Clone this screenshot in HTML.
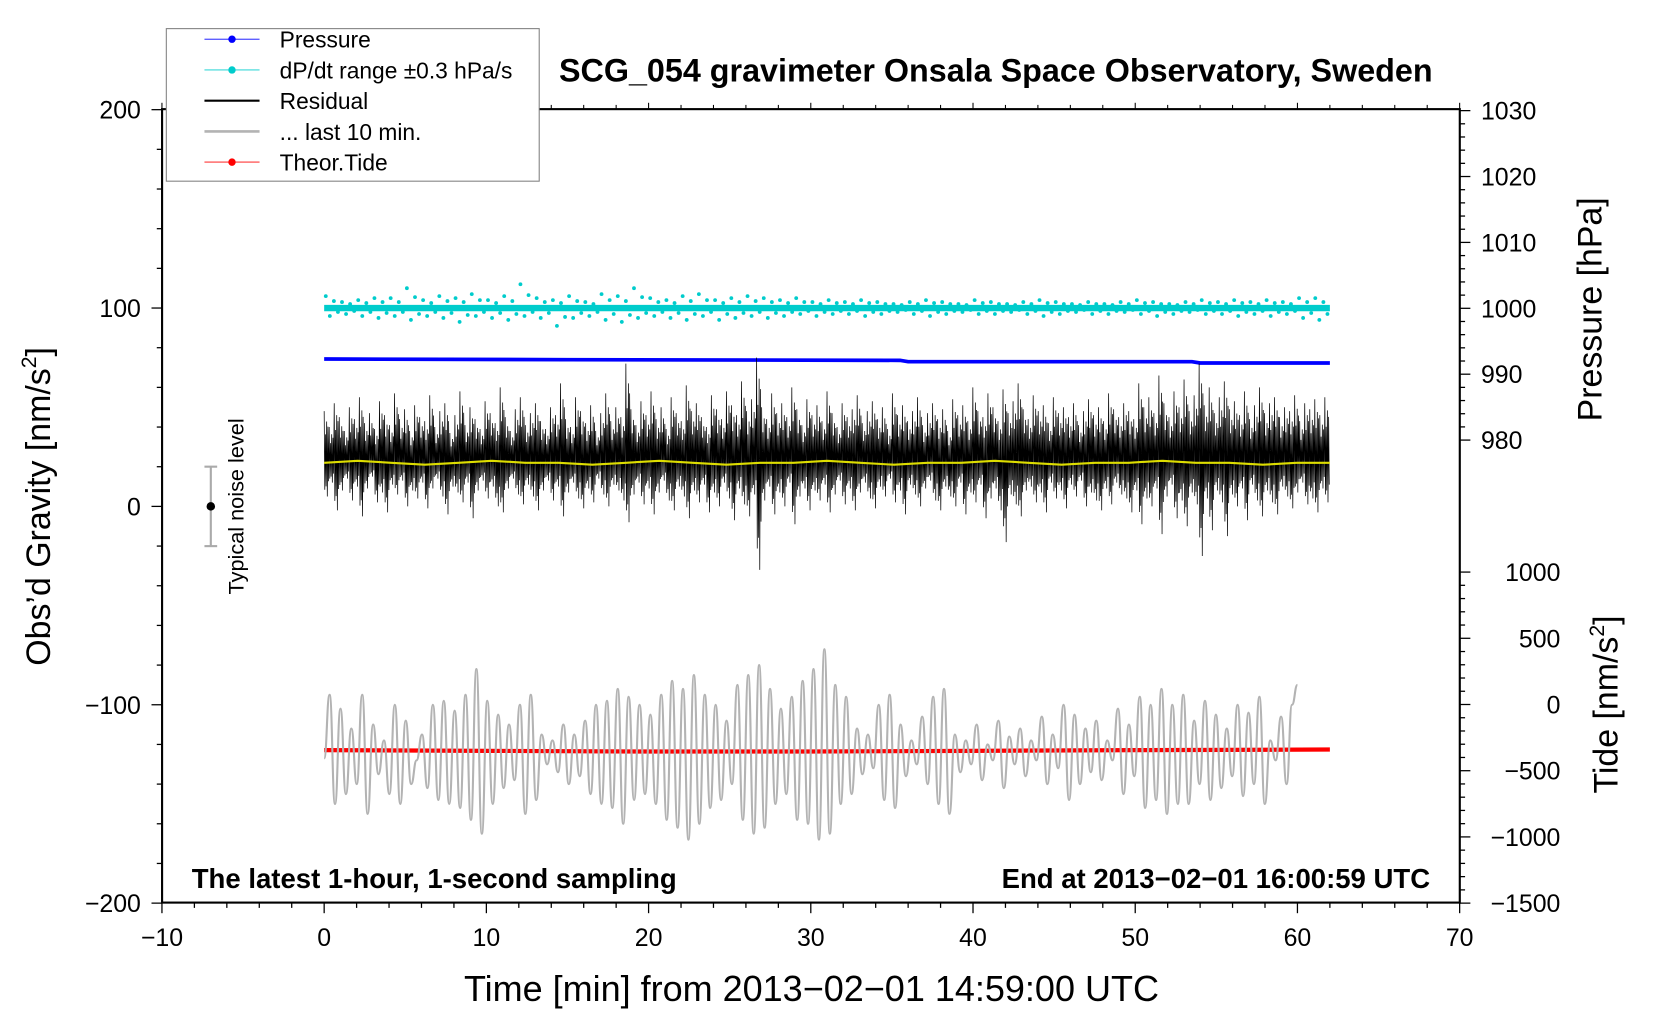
<!DOCTYPE html>
<html><head><meta charset="utf-8"><style>
html,body{margin:0;padding:0;background:#fff}
svg{display:block;font-family:"Liberation Sans",Arial,sans-serif}
</style></head><body>
<svg id="chart" width="1660" height="1020" viewBox="0 0 1567 962.8" xmlns="http://www.w3.org/2000/svg">
<rect width="1567" height="963" fill="#fff"/>
<g id="series"></g>
<g id="axes"></g>
<text x="940" y="77" text-anchor="middle" font-size="30.5" font-weight="bold">SCG_054 gravimeter Onsala Space Observatory, Sweden</text>
<g>
<rect x="157" y="27" width="352" height="144" fill="#fff" stroke="#808080" stroke-width="1"/>
<g><line x1="193" y1="37" x2="245" y2="37" stroke="#0000ff" stroke-width="0.8"/><circle cx="219" cy="37" r="3.5" fill="#0000ff"/><text x="264" y="45" font-size="21.5">Pressure</text></g>
<g><line x1="193" y1="66" x2="245" y2="66" stroke="#00cccc" stroke-width="0.8"/><circle cx="219" cy="66" r="3.5" fill="#00cccc"/><text x="264" y="74" font-size="21.5">dP/dt range ±0.3 hPa/s</text></g>
<g><line x1="193" y1="95" x2="245" y2="95" stroke="#000" stroke-width="2"/><text x="264" y="103" font-size="21.5">Residual</text></g>
<g><line x1="193" y1="124" x2="245" y2="124" stroke="#b3b3b3" stroke-width="2.5"/><text x="264" y="132" font-size="21.5">... last 10 min.</text></g>
<g><line x1="193" y1="153" x2="245" y2="153" stroke="#ff0000" stroke-width="0.8"/><circle cx="219" cy="153" r="3.5" fill="#ff0000"/><text x="264" y="161" font-size="21.5">Theor.Tide</text></g>
</g>
<g>
<line x1="199" y1="440.5" x2="199" y2="515.5" stroke="#aaa" stroke-width="2"/>
<line x1="193" y1="440.5" x2="205" y2="440.5" stroke="#aaa" stroke-width="2"/>
<line x1="193" y1="515.5" x2="205" y2="515.5" stroke="#aaa" stroke-width="2"/>
<circle cx="199" cy="478" r="4" fill="#000"/>
<text x="0" y="0" transform="translate(230,478) rotate(-90)" text-anchor="middle" font-size="20.5">Typical noise level</text>
</g>
<text x="181" y="838" font-size="26" font-weight="bold">The latest 1-hour, 1-second sampling</text>
<text x="1350" y="838" text-anchor="end" font-size="26" font-weight="bold">End at 2013−02−01 16:00:59 UTC</text>
<text transform="translate(47,478) rotate(-90)" text-anchor="middle" font-size="32">Obs’d Gravity [nm/s<tspan font-size="20" dy="-13">2</tspan><tspan dy="13">]</tspan></text>
<text transform="translate(1512,292) rotate(-90)" text-anchor="middle" font-size="32">Pressure [hPa]</text>
<text transform="translate(1527,665) rotate(-90)" text-anchor="middle" font-size="32">Tide [nm/s<tspan font-size="20" dy="-13">2</tspan><tspan dy="13">]</tspan></text>
<text x="766" y="945" text-anchor="middle" font-size="34">Time [min] from 2013−02−01 14:59:00 UTC</text>
</svg>
<script>
const residualHi=[48,40,52,45,38,50,44,55,42,47,39,53,46,41,57,44,49,38,51,45,
43,56,40,48,52,37,46,58,41,50,44,39,53,47,42,60,45,38,49,55,
41,47,52,43,39,50,46,62,44,40,55,48,42,51,38,47,57,43,50,45,
72,49,41,53,46,58,44,50,39,55,47,43,61,48,52,45,40,56,49,44,
58,51,46,63,48,54,75,50,44,57,47,52,45,60,49,41,54,46,51,43,
58,47,40,52,45,49,56,42,48,53,44,50,39,57,46,51,43,48,55,41,
47,52,44,49,38,54,46,51,43,60,48,45,57,50,43,59,47,53,62,49,
44,56,48,51,42,55,47,50,45,52,41,48,54,46,50,43,57,49,45,52,
48,44,62,50,55,47,66,52,45,58,50,64,48,56,72,51,60,47,55,63,
49,53,46,58,44,51,60,47,52,55,45,50,48,56,43,52,49,54,46,55];
const residualLo=[5,12,-2,8,14,3,10,-5,9,15,2,7,-3,11,6,13,0,8,4,12,
-1,9,14,5,-4,10,7,2,12,-6,8,13,4,10,0,-3,9,14,6,1,
11,5,-2,8,13,3,10,-5,7,12,4,-1,9,2,14,6,0,11,8,3,
-8,6,12,1,9,-4,7,13,3,-2,10,5,-6,8,2,11,-3,7,0,12,
4,-7,9,1,-5,6,-32,3,10,-4,7,0,12,-9,5,9,-2,8,3,11,
-3,6,13,1,9,-2,7,12,4,-1,10,5,14,2,8,-4,11,6,0,9,
13,3,-2,10,5,0,12,-4,7,2,11,-6,4,9,-2,-18,6,1,-5,8,
10,2,7,-3,12,4,8,-1,11,5,13,0,7,3,-2,9,1,12,6,4,
-3,8,-9,4,0,9,-14,5,11,-6,3,-10,7,1,-25,4,-12,8,2,-15,
6,0,9,-7,11,3,-5,8,2,-4,10,5,-1,7,12,1,4,-3,9,2];
const residualCenter=22;
const smoothResidual=[22,23,22,21,22,23,22,22,21,22,23,22,21,22,22,23,22,21,22,22,23,22,21,22,22,23,22,22,21,22,22];
const last10=[-127,-95,-150,-102,-145,-112,-140,-95,-155,-110,-135,-118,-145,-100,-150,-108,-140,-128,-115,-142,-100,-148,-98,-150,-103,-152,-95,-158,-82,-165,
-98,-150,-105,-142,-110,-138,-100,-155,-95,-148,-115,-130,-118,-134,-110,-140,-115,-136,-108,-145,-100,-150,-98,-152,-92,-160,-96,-148,-100,-145,
-105,-150,-95,-158,-88,-162,-92,-168,-85,-160,-95,-152,-100,-148,-108,-140,-90,-158,-85,-165,-80,-162,-92,-150,-102,-145,-96,-158,-88,-160,
-82,-168,-72,-165,-90,-150,-96,-145,-112,-135,-115,-132,-100,-148,-95,-152,-110,-136,-118,-130,-106,-140,-96,-150,-92,-155,-115,-134,-118,-130,
-110,-138,-120,-128,-108,-142,-116,-130,-112,-136,-118,-128,-106,-140,-115,-132,-100,-148,-105,-140,-112,-134,-108,-138,-118,-128,-102,-145,-110,-136,
-96,-152,-100,-148,-92,-155,-100,-150,-95,-150,-108,-140,-98,-148,-105,-142,-112,-136,-100,-146,-104,-140,-96,-150,-118,-128,-106,-140,-100,-90];
const dpdtHi=[106,103,104,105,105,110,104,106,105,107,104,106,112,105,104,106,103,107,106,110,105,104,106,107,104,105,106,105,104,105,103,104,103,104,103,102,103,104,103,102,104,103,102,103,104,103,102,103,102,103,104,103,102,103,104,103,104,103,104,103,105,105];
const dpdtLo=[96,97,96,95,96,94,96,95,93,96,95,94,96,95,91,95,96,94,93,95,96,95,94,96,94,95,96,95,96,97,96,97,97,96,97,98,97,96,97,98,97,97,98,97,96,97,98,97,97,98,97,96,97,98,97,97,96,97,96,97,95,94];
const pressureTimes=[0,15,35.5,36,53.5,54,62];
const pressureVals=[992.3,992.2,992.1,991.9,991.9,991.7,991.7];
const tideTimes=[0,10,20,30,40,50,62];
const tideVals=[-345,-350,-355,-355,-350,-345,-340];
const xTicks=[-10,0,10,20,30,40,50,60,70];
const gTicks=[200,100,0,-100,-200];
const pTicks=[1030,1020,1010,1000,990,980];
const tTicks=[1000,500,0,-500,-1000,-1500];

const NS='http://www.w3.org/2000/svg';
const X=t=>306+t*15.3125;
const YG=v=>478-v*1.8725;
const YP=p=>291-(p-1000)*6.22;
const YT=v=>665-v*0.125;
const R=1378, T=103, B=852;
const S=document.getElementById('series'), A=document.getElementById('axes');
function mk(tag,attrs,parent){const e=document.createElementNS(NS,tag);for(const k in attrs)e.setAttribute(k,attrs[k]);parent.appendChild(e);return e;}

const cyCore=mk('line',{x1:X(0),y1:YG(100),x2:X(62),y2:YG(100),stroke:'#00cccc','stroke-width':6},S);


dpdtHi.forEach((h,i)=>{
 const lo=dpdtLo[i];
 const pts=[[i+0.1,h],[i+0.35,lo],[i+0.6,(h+100)/2+0.5],[i+0.85,(lo+100)/2]];
 pts.forEach(p=>{
  const c=mk('circle',{cx:X(p[0]),cy:YG(p[1]),r:1.8,fill:'#00cccc'},S);
  
  
 });
});
const pl=mk('polyline',{points:pressureTimes.map((t,i)=>X(t)+','+YP(pressureVals[i])).join(' '),fill:'none',stroke:'#0000ff','stroke-width':3.5},S);


let rp=[];const n=residualHi.length,step=62/n;
const fr=[1,0.55,0.8,0.7];
residualHi.forEach((h,i)=>{
 const lo=residualLo[i];
 for(let k=0;k<4;k++){
  const f=fr[k];
  rp.push(X((i+k/4)*step)+','+YG(residualCenter+(h-residualCenter)*f));
  rp.push(X((i+k/4+0.125)*step)+','+YG(residualCenter+(lo-residualCenter)*fr[(k+2)%4]));
 }
});
const rl=mk('polyline',{points:rp.join(' '),fill:'none',stroke:'#000','stroke-width':0.7},S);


const sl=mk('polyline',{points:smoothResidual.map((v,i)=>X(i*62/(smoothResidual.length-1))+','+YG(v)).join(' '),fill:'none',stroke:'#dddd00','stroke-width':2},S);


const tl=mk('polyline',{points:tideTimes.map((t,i)=>X(t)+','+YT(tideVals[i])).join(' '),fill:'none',stroke:'#ff0000','stroke-width':4},S);


let d='';const m=last10.length;
last10.forEach((v,i)=>{
 const x=X(i*60/(m-1)),y=YG(v);
 if(i===0){d+='M'+x+' '+y;}else{
  const px=X((i-1)*60/(m-1)),py=YG(last10[i-1]),h=(x-px)/2;
  d+=' C'+(px+h)+' '+py+' '+(x-h)+' '+y+' '+x+' '+y;
 }
});
const gl=mk('path',{d:d,fill:'none',stroke:'#b3b3b3','stroke-width':2},S);



const frame=mk('rect',{x:153,y:T,width:R-153,height:B-T,fill:'none',stroke:'#000','stroke-width':2},A);


for(let t=-10;t<=70;t+=2){const maj=t%10===0;
 mk('line',{x1:X(t),y1:B,x2:X(t),y2:B+(maj?10:5),stroke:'#000','stroke-width':1.2},A);
 mk('line',{x1:X(t),y1:T,x2:X(t),y2:T-(maj?6:4),stroke:'#000','stroke-width':1},A);}
xTicks.forEach(t=>{const e=mk('text',{x:X(t),y:893,'text-anchor':'middle','font-size':23.5},A);e.textContent=String(t).replace('-','−');
 
 });
for(let v=-200;v<=200;v+=20){const maj=v%100===0;
 mk('line',{x1:153,y1:YG(v),x2:153-(maj?10:5),y2:YG(v),stroke:'#000','stroke-width':1.2},A);}
gTicks.forEach(v=>{const e=mk('text',{x:133,y:YG(v)+8.5,'text-anchor':'end','font-size':23.5},A);e.textContent=String(v).replace('-','−');
 
 });
for(let p=980;p<=1030;p+=2){const maj=p%10===0;
 mk('line',{x1:R,y1:YP(p),x2:R+(maj?10:5),y2:YP(p),stroke:'#000','stroke-width':1.2},A);}
pTicks.forEach(p=>{const e=mk('text',{x:1398,y:YP(p)+8.5,'font-size':23.5},A);e.textContent=p;
 
 });
for(let v=-1500;v<=1000;v+=100){const maj=v%500===0;
 mk('line',{x1:R,y1:YT(v),x2:R+(maj?10:5),y2:YT(v),stroke:'#000','stroke-width':1.2},A);}
tTicks.forEach(v=>{const e=mk('text',{x:1473,y:YT(v)+8.5,'text-anchor':'end','font-size':23.5},A);e.textContent=String(v).replace('-','−');
 
 });
</script>
</body></html>
